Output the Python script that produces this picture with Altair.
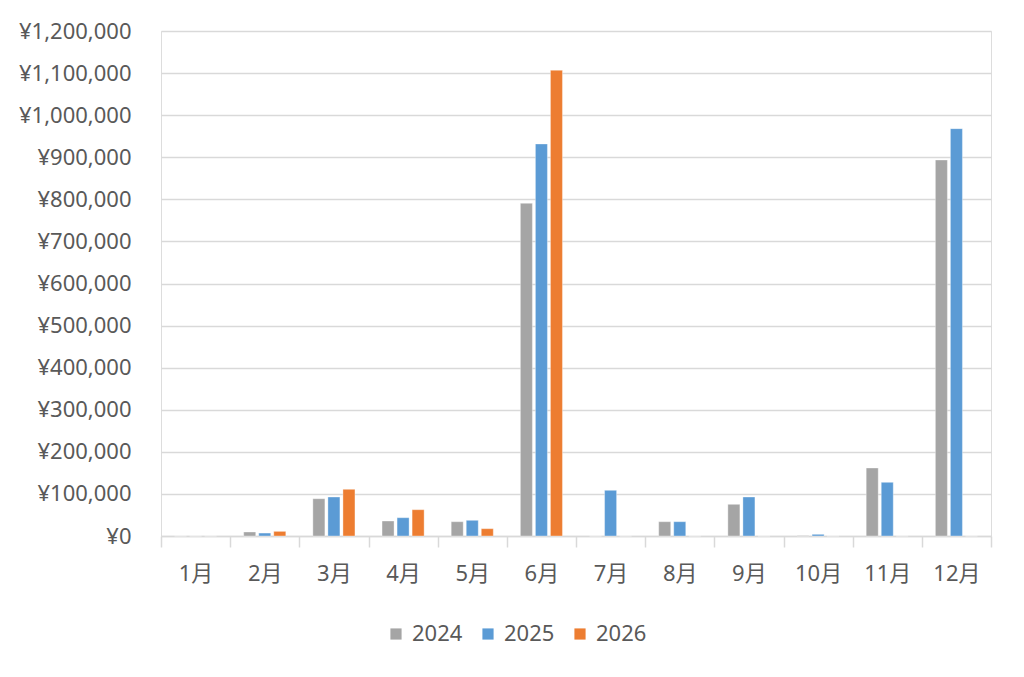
import altair as alt
import pandas as pd

months = ["1月", "2月", "3月", "4月", "5月", "6月", "7月", "8月", "9月", "10月", "11月", "12月"]
years = ["2024", "2025", "2026"]
v2024 = [0, 9500, 88600, 35600, 34000, 790600, 0, 34000, 75300, 1000, 161600, 893500]
v2025 = [0, 7000, 92700, 43500, 37300, 931600, 108600, 34000, 92700, 4000, 127600, 968000]
v2026 = [0, 11000, 111000, 62500, 17400, 1106700, 0, 0, 0, 0, 0, 0]
colors = ["#a5a5a5", "#5b9bd5", "#ed7d31"]

rows = []
for y, vals in zip(years, [v2024, v2025, v2026]):
    for m, v in zip(months, vals):
        rows.append({"month": m, "year": y, "value": v})
df = pd.DataFrame(rows)

FONT = "Noto Sans, Noto Sans CJK JP, sans-serif"
TXT = "#595959"
FS = 22

chart = alt.Chart(df).mark_bar(stroke="white", strokeWidth=0.6, strokeOpacity=0.6).encode(
    x=alt.X("month:N", sort=months, title=None,
            scale=alt.Scale(paddingInner=0, paddingOuter=0),
            axis=alt.Axis(labelAngle=0, tickBand="extent", ticks=True, tickSize=11,
                          tickColor="#d9d9d9", tickWidth=1.5, domainColor="#d9d9d9",
                          domainWidth=1.5, labelPadding=16, labelFontSize=FS,
                          labelColor=TXT, labelFont=FONT, grid=False)),
    xOffset=alt.XOffset("year:N", sort=years,
                        scale=alt.Scale(paddingInner=0.2, paddingOuter=0.9)),
    y=alt.Y("value:Q", title=None,
            scale=alt.Scale(domain=[0, 1200000], nice=False),
            axis=alt.Axis(values=list(range(0, 1200001, 100000)),
                          labelExpr="'¥' + format(datum.value, ',')",
                          ticks=False, domain=False, labelPadding=30, labelFontSize=FS,
                          labelColor=TXT, labelFont=FONT, gridColor="#d9d9d9", gridWidth=1.5)),
    color=alt.Color("year:N", sort=years, scale=alt.Scale(domain=years, range=colors),
                    legend=alt.Legend(title=None, orient="none", direction="horizontal",
                                      legendX=224, legendY=592, symbolType="square",
                                      symbolSize=125, symbolStrokeWidth=0, labelFontSize=FS,
                                      labelColor=TXT, labelFont=FONT, columnPadding=14,
                                      labelOffset=5, padding=0)),
).properties(
    width=830, height=505,
    padding={"left": 10, "top": 12, "right": 10, "bottom": 10},
).configure_view(stroke=None).configure(background="white")

chart.save("out.html", embed_options={"renderer": "svg", "actions": False})
